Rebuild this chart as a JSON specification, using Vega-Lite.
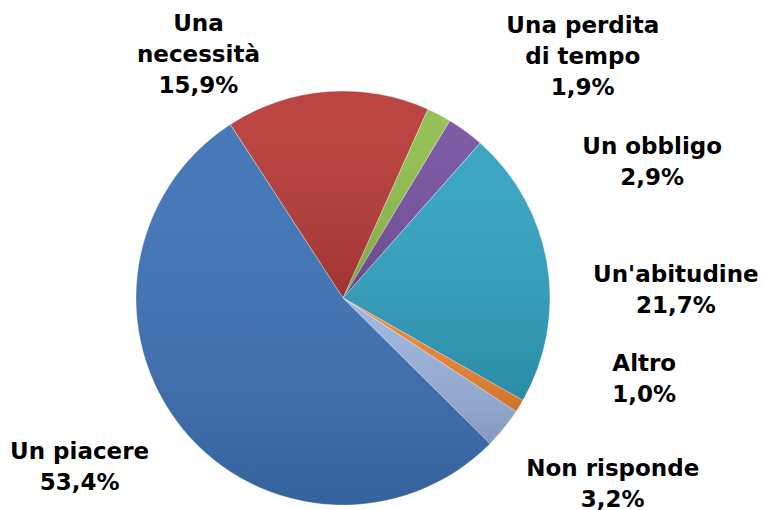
{
  "$schema": "https://vega.github.io/schema/vega-lite/v6.json",
  "autosize": {"type": "none"},
  "width": 686,
  "height": 420,
  "padding": {"left": 0, "top": 88, "right": 77, "bottom": 2},
  "background": "white",
  "config": {"view": {"stroke": null}},
  "data": {
    "values": [
      {"idx": 1, "cat": "Una necessità", "value": 15.9, "label": "Una\nnecessità\n15,9%"},
      {"idx": 2, "cat": "Una perdita di tempo", "value": 1.9, "label": "Una perdita\ndi tempo\n1,9%"},
      {"idx": 3, "cat": "Un obbligo", "value": 2.9, "label": "Un obbligo\n2,9%"},
      {"idx": 4, "cat": "Un'abitudine", "value": 21.7, "label": "Un'abitudine\n21,7%"},
      {"idx": 5, "cat": "Altro", "value": 1.0, "label": "Altro\n1,0%"},
      {"idx": 6, "cat": "Non risponde", "value": 3.2, "label": "Non risponde\n3,2%"},
      {"idx": 7, "cat": "Un piacere", "value": 53.4, "label": "Un piacere\n53,4%"}
    ]
  },
  "encoding": {
    "theta": {"field": "value", "type": "quantitative", "stack": true, "scale": {"range": [-0.576, 5.707]}},
    "order": {"field": "idx", "type": "quantitative"}
  },
  "layer": [
    {
      "mark": {"type": "arc", "radius": 207, "stroke": "#ffffff", "strokeOpacity": 0.35, "strokeWidth": 1},
      "encoding": {
        "color": {
          "field": "cat", "type": "nominal", "legend": null,
          "scale": {
            "domain": ["Una necessità", "Una perdita di tempo", "Un obbligo", "Un'abitudine", "Altro", "Non risponde", "Un piacere"],
            "range": ["#B83B38", "#8FBF4D", "#7752A1", "#31A2C1", "#EE8632", "#9AB3DC", "#3D72B6"]
          }
        }
      }
    },
    {
      "mark": {"type": "arc", "radius": 207, "fill": {"gradient": "linear", "x1": 0, "y1": 0, "x2": 0, "y2": 1, "stops": [{"offset": 0, "color": "rgba(255,255,255,0.05)"}, {"offset": 1, "color": "rgba(0,0,0,0.14)"}]}}
    },
    {
      "mark": {"type": "text", "radius": 230, "dx": -127, "dy": -45, "font": "DejaVu Sans", "fontWeight": "bold", "fontSize": 23, "lineHeight": 31, "lineBreak": "\n", "align": "center", "baseline": "middle", "color": "#000000"},
      "encoding": {"text": {"condition": {"test": "datum.cat === 'Una necessità'", "field": "label"}, "value": ""}}
    },
    {
      "mark": {"type": "text", "radius": 230, "dx": 133, "dy": -68, "font": "DejaVu Sans", "fontWeight": "bold", "fontSize": 23, "lineHeight": 31, "lineBreak": "\n", "align": "center", "baseline": "middle", "color": "#000000"},
      "encoding": {"text": {"condition": {"test": "datum.cat === 'Una perdita di tempo'", "field": "label"}, "value": ""}}
    },
    {
      "mark": {"type": "text", "radius": 230, "dx": 173, "dy": 34.5, "font": "DejaVu Sans", "fontWeight": "bold", "fontSize": 23, "lineHeight": 31, "lineBreak": "\n", "align": "center", "baseline": "middle", "color": "#000000"},
      "encoding": {"text": {"condition": {"test": "datum.cat === 'Un obbligo'", "field": "label"}, "value": ""}}
    },
    {
      "mark": {"type": "text", "radius": 230, "dx": 106, "dy": 14.5, "font": "DejaVu Sans", "fontWeight": "bold", "fontSize": 23, "lineHeight": 31, "lineBreak": "\n", "align": "center", "baseline": "middle", "color": "#000000"},
      "encoding": {"text": {"condition": {"test": "datum.cat === \"Un'abitudine\"", "field": "label"}, "value": ""}}
    },
    {
      "mark": {"type": "text", "radius": 230, "dx": 105, "dy": -53.5, "font": "DejaVu Sans", "fontWeight": "bold", "fontSize": 23, "lineHeight": 31, "lineBreak": "\n", "align": "center", "baseline": "middle", "color": "#000000"},
      "encoding": {"text": {"condition": {"test": "datum.cat === 'Altro'", "field": "label"}, "value": ""}}
    },
    {
      "mark": {"type": "text", "radius": 230, "dx": 91, "dy": 26.5, "font": "DejaVu Sans", "fontWeight": "bold", "fontSize": 23, "lineHeight": 31, "lineBreak": "\n", "align": "center", "baseline": "middle", "color": "#000000"},
      "encoding": {"text": {"condition": {"test": "datum.cat === 'Non risponde'", "field": "label"}, "value": ""}}
    },
    {
      "mark": {"type": "text", "radius": 230, "dx": -85, "dy": 8.5, "font": "DejaVu Sans", "fontWeight": "bold", "fontSize": 23, "lineHeight": 31, "lineBreak": "\n", "align": "center", "baseline": "middle", "color": "#000000"},
      "encoding": {"text": {"condition": {"test": "datum.cat === 'Un piacere'", "field": "label"}, "value": ""}}
    }
  ]
}
